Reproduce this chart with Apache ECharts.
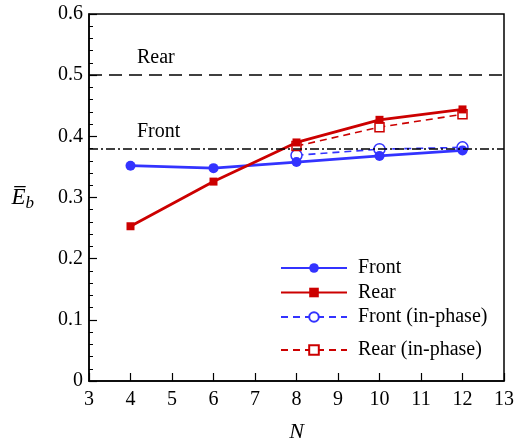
<!DOCTYPE html>
<html>
<head>
    <meta charset="utf-8">
    <title>E_b vs N</title>
    <script src="https://cdn.jsdelivr.net/npm/echarts@6/dist/echarts.min.js"></script>
</head>
<body style="margin:0;overflow:hidden">
    <div id="main" style="width: 515px;height:442px;"></div>
    <script type="text/javascript">
        // data
        var nValues = [4, 6, 8, 10, 12];
        var front = [0.352, 0.348, 0.358, 0.368, 0.377];
        var rear = [0.253, 0.326, 0.390, 0.427, 0.444];
        var nInPhase = [8, 10, 12];
        var frontInPhase = [0.369, 0.379, 0.382];
        var rearInPhase = [0.384, 0.415, 0.436];
        var rearRef = 0.5;
        var frontRef = 0.38;

        var font = "'Liberation Serif', 'DejaVu Serif', serif";
        var blue = '#3333ff';
        var red = '#cc0000';

        function pairs(xs, ys) {
            return xs.map(function (x, i) { return [x, ys[i]]; });
        }

        var myChart = echarts.init(document.getElementById('main'));

        var legendText = { fontFamily: font, fontSize: 20, color: '#000', padding: [0, 0, 0, 6] };

        var option = {
            animation: false,
            textStyle: { fontFamily: font },
            grid: {
                left: 89, right: 11, top: 14, bottom: 61,
                containLabel: false, outerBoundsMode: 'none',
                show: true, borderColor: '#000', borderWidth: 1.5
            },
            legend: [{
                data: ['Front', 'Rear', 'Front (in-phase)'],
                orient: 'vertical',
                left: 280, top: 258, padding: 0,
                itemWidth: 66, itemHeight: 12, itemGap: 4.5,
                textStyle: legendText
            }, {
                data: ['Rear (in-phase)'],
                orient: 'vertical',
                left: 280, top: 340, padding: 0,
                itemWidth: 66, itemHeight: 12,
                textStyle: legendText
            }],
            xAxis: {
                type: 'value', min: 3, max: 13, interval: 1,
                name: 'N', nameLocation: 'middle', nameGap: 40,
                nameTextStyle: { fontFamily: font, fontSize: 22, fontStyle: 'italic', color: '#000' },
                axisLine: { lineStyle: { color: '#000', width: 1.5 } },
                axisTick: { inside: true, length: 8, lineStyle: { color: '#000', width: 1.2 } },
                axisLabel: { fontFamily: font, fontSize: 20, color: '#000', margin: 9 },
                splitLine: { show: false }
            },
            yAxis: {
                type: 'value', min: 0, max: 0.6, interval: 0.1,
                name: '{e|E\u0305}{s|b}', nameLocation: 'middle', nameGap: 55, nameRotate: 0,
                nameTextStyle: {
                    rich: {
                        e: { fontFamily: font, fontSize: 23, fontStyle: 'italic', color: '#000' },
                        s: { fontFamily: font, fontSize: 17, fontStyle: 'italic', color: '#000', verticalAlign: 'bottom', padding: [12, 0, 0, 0] }
                    }
                },
                axisLine: { lineStyle: { color: '#000', width: 1.5 } },
                axisTick: { inside: true, length: 8, lineStyle: { color: '#000', width: 1.2 } },
                minorTick: { show: true, splitNumber: 5, length: 4, lineStyle: { color: '#000', width: 1 } },
                axisLabel: {
                    fontFamily: font, fontSize: 20, color: '#000', margin: 6,
                    formatter: function (v) { return v === 0 ? '0' : v.toFixed(1); }
                },
                splitLine: { show: false }
            },
            series: [{
                name: 'Front',
                type: 'line',
                data: pairs(nValues, front),
                symbol: 'circle', symbolSize: 10,
                lineStyle: { color: blue, width: 2.8 },
                itemStyle: { color: blue },
                z: 4
            }, {
                name: 'Rear',
                type: 'line',
                data: pairs(nValues, rear),
                symbol: 'rect', symbolSize: 8,
                lineStyle: { color: red, width: 2.8 },
                itemStyle: { color: red },
                z: 4
            }, {
                name: 'Front (in-phase)',
                type: 'line',
                data: pairs(nInPhase, frontInPhase),
                symbol: 'circle', symbolSize: 11,
                lineStyle: { color: blue, width: 1.6, type: [7, 5] },
                itemStyle: { color: '#fff', borderColor: blue, borderWidth: 1.5 },
                z: 3
            }, {
                name: 'Rear (in-phase)',
                type: 'line',
                data: pairs(nInPhase, rearInPhase),
                symbol: 'rect', symbolSize: 9,
                lineStyle: { color: red, width: 1.6, type: [7, 5] },
                itemStyle: { color: '#fff', borderColor: red, borderWidth: 1.5 },
                z: 3
            }, {
                name: 'refs',
                type: 'line',
                data: [],
                markLine: {
                    silent: true,
                    symbol: ['none', 'none'],
                    data: [{
                        yAxis: rearRef,
                        lineStyle: { color: '#000', width: 1.5, type: [13, 7] },
                        label: { formatter: 'Rear' }
                    }, {
                        yAxis: frontRef,
                        lineStyle: { color: '#000', width: 1.5, type: [9, 3, 2, 3] },
                        label: { formatter: 'Front' }
                    }],
                    label: {
                        position: 'insideStartTop',
                        distance: [48, 7],
                        fontFamily: font, fontSize: 20, color: '#000'
                    }
                },
                z: 2
            }]
        };

        myChart.setOption(option);
    </script>
</body>
</html>
